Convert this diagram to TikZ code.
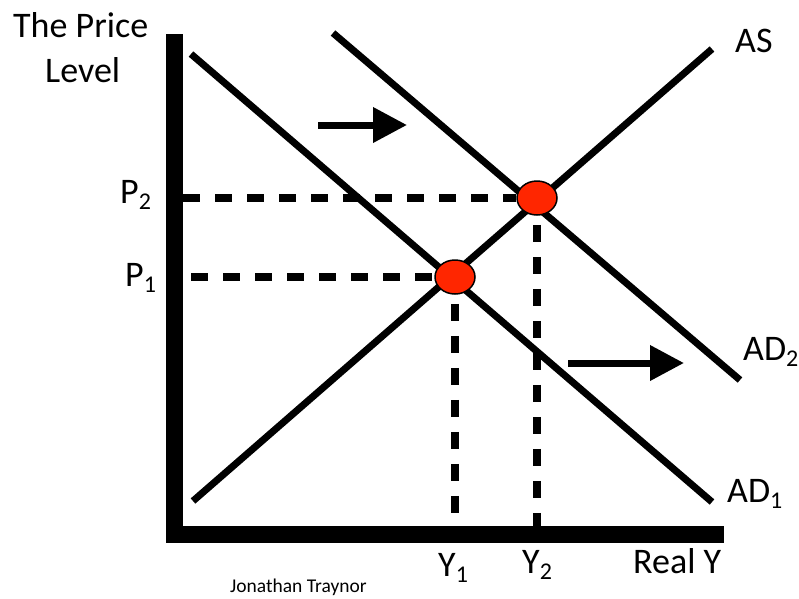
\documentclass[tikz,border=0pt]{standalone}
\usepackage{fontspec}
\setmainfont{Carlito}
\usetikzlibrary{shapes.geometric,arrows.meta}
\definecolor{dotred}{RGB}{255,38,0}
\newcommand\mysub[1]{\raisebox{-0.17em}{\fontsize{24}{24}\selectfont #1}}
\begin{document}
\begin{tikzpicture}[x=1pt,y=-1pt,
  curveline/.style={line width=7pt},
  axisline/.style={line width=17pt, line join=miter},
  guide/.style={line width=8pt, dash pattern=on 17pt off 15pt},
  eqdot/.style={ellipse, draw=black, line width=1.5pt, fill=dotred,
    minimum width=40pt, minimum height=34pt, inner sep=0pt},
  lbl/.style={anchor=base west, inner sep=0pt, font=\fontsize{36}{42}\selectfont},
  shiftarrow/.style={line width=7pt, -{Triangle[length=34pt,width=34pt]}}]
\useasboundingbox (0,0) rectangle (799,598);

% axes
\coordinate (Ytop) at (174.5,34);
\coordinate (O) at (174.5,534.5);
\coordinate (Xend) at (724,534.5);
\draw[axisline] (Ytop) -- (O) -- (Xend);

% curves
\coordinate (ASa) at (193,501);   \coordinate (ASb) at (712,49);
\coordinate (AD1a) at (191,54);   \coordinate (AD1b) at (712,502);
\coordinate (AD2a) at (333,33);   \coordinate (AD2b) at (740,380);
\draw[curveline] (ASa) -- (ASb);
\draw[curveline] (AD1a) -- (AD1b);
\draw[curveline] (AD2a) -- (AD2b);

% equilibrium points
\node[eqdot] (E1) at (455,277) {};
\node[eqdot] (E2) at (537,198) {};

% guide lines
\coordinate (P2s) at (183,198);
\coordinate (P1s) at (191,277);
\coordinate (Y1e) at (455,526);
\coordinate (Y2e) at (537,526);
\draw[guide] (P2s) -- (E2.west);
\draw[guide] (P1s) -- (E1.west);
\draw[guide] (E1.south) ++(0,9) -- (Y1e);
\draw[guide] (E2.south) ++(0,9) -- (Y2e);

% shift arrows
\coordinate (A1s) at (318,125); \coordinate (A1e) at (407,125);
\coordinate (A2s) at (568,363); \coordinate (A2e) at (684,363);
\draw[shiftarrow] (A1s) -- (A1e);
\draw[shiftarrow] (A2s) -- (A2e);

% labels
\node[lbl] (tp) at (13,37) {The Price};
\node[lbl] (lv) at (45,82) {Level};
\node[lbl] (as) at (735,52) {AS};
\node[lbl] (p2) at (120,203) {P\mysub{2}};
\node[lbl] (p1) at (125,286) {P\mysub{1}};
\node[lbl] (ad2) at (743,360) {AD\mysub{2}};
\node[lbl] (ad1) at (727,502) {AD\mysub{1}};
\node[lbl] (y1) at (438,576) {Y\mysub{1}};
\node[lbl] (y2) at (522,573) {Y\mysub{2}};
\node[lbl] (ry) at (633,573) {Real Y};
\node[anchor=base west, inner sep=0pt, font=\fontsize{19.5}{22}\selectfont] (jt) at (230,592) {Jonathan Traynor};
\end{tikzpicture}
\end{document}
